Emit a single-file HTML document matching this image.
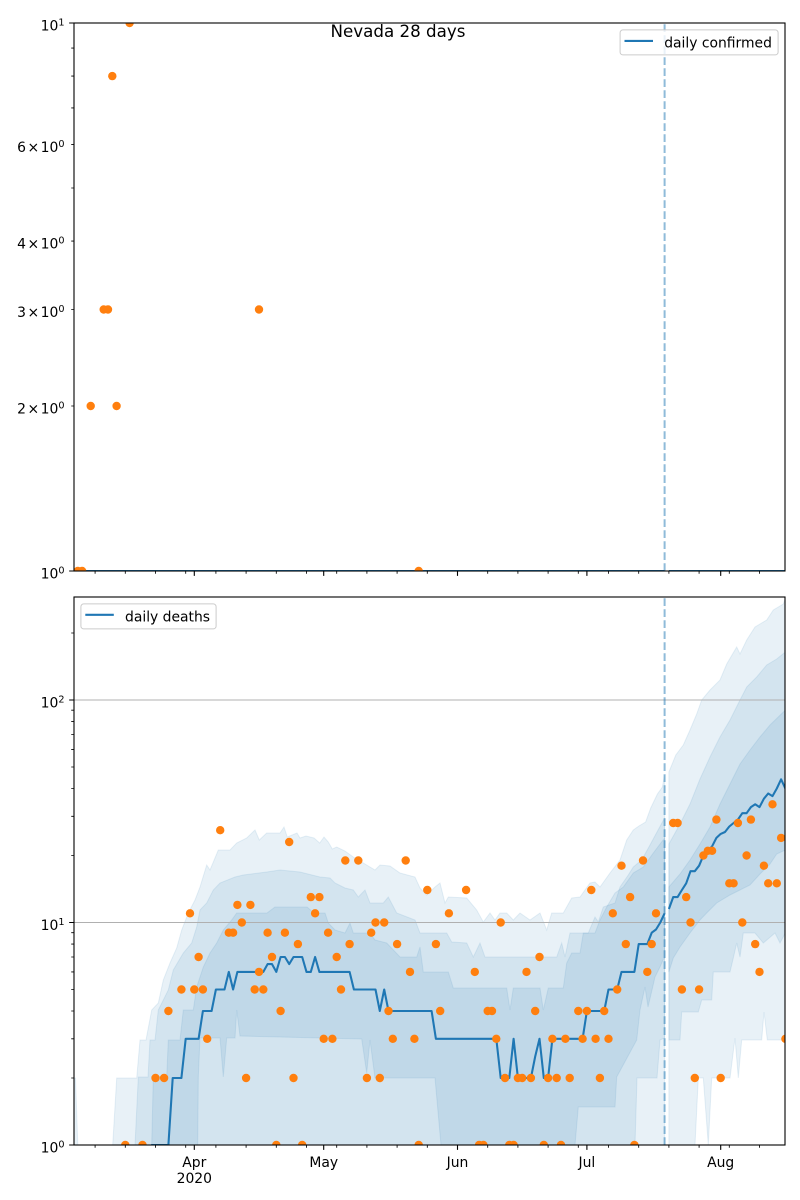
<!DOCTYPE html>
<html><head><meta charset="utf-8"><style>html,body{margin:0;padding:0;background:#fff}svg{display:block}</style></head>
<body>
<svg width="800" height="1200" viewBox="0 0 800 1200" xmlns="http://www.w3.org/2000/svg" font-family="'DejaVu Sans','Liberation Sans',sans-serif">
<rect width="800" height="1200" fill="#fff"/>
<defs>
<clipPath id="ct"><rect x="74" y="23" width="711" height="548"/></clipPath>
<clipPath id="cb"><rect x="74" y="597" width="711" height="548"/></clipPath>
</defs>

<!-- ================= TOP PANEL ================= -->
<g clip-path="url(#ct)">
<path d="M74,571 H664.6 M668.9,571 H785" stroke="#1f77b4" stroke-width="2.08" fill="none"/>
<g fill="#ff7f0e">
<circle cx="77.8" cy="571" r="4.2"/><circle cx="82.1" cy="571" r="4.2"/>
<circle cx="90.7" cy="406" r="4.2"/><circle cx="103.7" cy="309.5" r="4.2"/>
<circle cx="108" cy="309.5" r="4.2"/><circle cx="112.3" cy="76.1" r="4.2"/>
<circle cx="116.6" cy="406" r="4.2"/><circle cx="129.6" cy="23" r="4.2"/>
<circle cx="259" cy="309.5" r="4.2"/><circle cx="418.7" cy="571" r="4.2"/>
</g>
<line x1="664.6" y1="571" x2="664.6" y2="23" stroke="#1f77b4" stroke-opacity="0.5" stroke-width="2" stroke-dasharray="7.7 3.3"/>
</g>
<rect x="74" y="23" width="711" height="548" fill="none" stroke="#000" stroke-width="1.1"/>
<!-- top y ticks -->
<g stroke="#000" stroke-width="1.1">
<path d="M74,23 h-4.86 M74,571 h-4.86"/>
</g>
<g stroke="#000" stroke-width="0.85">
<path d="M74,48.1 h-2.78 M74,76.1 h-2.78 M74,107.9 h-2.78 M74,144.6 h-2.78 M74,188 h-2.78 M74,241.1 h-2.78 M74,309.5 h-2.78 M74,406 h-2.78"/>
</g>
<g font-size="13.9" text-anchor="end" fill="#000">
<text x="64.5" y="30.5">10<tspan dy="-5.1" font-size="9.7">1</tspan></text>
<text x="64.5" y="152.1">6<tspan dx="1.5">×</tspan><tspan dx="1.5">10</tspan><tspan dy="-5.1" font-size="9.7">0</tspan></text>
<text x="64.5" y="248.6">4<tspan dx="1.5">×</tspan><tspan dx="1.5">10</tspan><tspan dy="-5.1" font-size="9.7">0</tspan></text>
<text x="64.5" y="317">3<tspan dx="1.5">×</tspan><tspan dx="1.5">10</tspan><tspan dy="-5.1" font-size="9.7">0</tspan></text>
<text x="64.5" y="413.5">2<tspan dx="1.5">×</tspan><tspan dx="1.5">10</tspan><tspan dy="-5.1" font-size="9.7">0</tspan></text>
<text x="64.5" y="578.5">10<tspan dy="-5.1" font-size="9.7">0</tspan></text>
</g>
<!-- top x ticks -->
<g stroke="#000" stroke-width="1.1">
<path d="M194.3,571 v4.86 M323.7,571 v4.86 M457.5,571 v4.86 M586.9,571 v4.86 M720.7,571 v4.86"/>
</g>
<g stroke="#000" stroke-width="0.85">
<path d="M95.1,571 v2.78 M125.3,571 v2.78 M155.5,571 v2.78 M185.7,571 v2.78 M215.9,571 v2.78 M246.1,571 v2.78 M276.3,571 v2.78 M306.5,571 v2.78 M336.7,571 v2.78 M366.9,571 v2.78 M397.1,571 v2.78 M427.3,571 v2.78 M487.7,571 v2.78 M517.9,571 v2.78 M548.1,571 v2.78 M578.3,571 v2.78 M608.5,571 v2.78 M638.7,571 v2.78 M668.9,571 v2.78 M699.1,571 v2.78 M729.3,571 v2.78 M759.5,571 v2.78"/>
</g>
<!-- top legend -->
<rect x="620.1" y="29.9" width="158" height="25" rx="2.8" fill="#fff" fill-opacity="0.8" stroke="#cccccc" stroke-width="1"/>
<line x1="624.5" y1="40.9" x2="653" y2="40.9" stroke="#1f77b4" stroke-width="2.08"/>
<text x="664.2" y="47.3" font-size="13.9" fill="#000">daily confirmed</text>

<text x="398" y="37" font-size="16.7" text-anchor="middle" fill="#000">Nevada 28 days</text>

<!-- ================= BOTTOM PANEL ================= -->
<g clip-path="url(#cb)">
<g fill="#1f77b4" fill-opacity="0.1" stroke="#1f77b4" stroke-opacity="0.1" stroke-width="1">
<polygon points="74,1145 74,1078 75.5,1078 77.8,1145"/>
<!-- outer historical -->
<polygon points="112.7,1145 116.7,1078 136.7,1078 140,1040 146,1040 151.7,1010 158.3,1003 163.3,980 170,963 176.7,948 181.7,930 188.3,913 195,900 200,887 206.7,865 210,870 218.3,850 230,850 236.7,843 246.7,838 255,830 259.3,840 266.7,833 280,833 284,827 287.3,837 297,833 300,838 306,836 314,838 319.7,843 324,837 328.3,842 332.3,849 336.7,847 345,851 353.3,857 361.7,862 370,867 375,870 380,865 390,866 400,873 415,877 420,888 426.7,895 435,887 440,883 445,903 448.3,897 466.7,898 476.7,910 483.3,922 490,913 495,920 500,913 506.7,913 513.3,920 520,913 530,920 540,913 546.7,930 551.7,913 563.3,913 571.7,898 580,897 590,883 595,882 600,887 610,873 620,860 626.7,840 633.3,830 638.9,826 645.6,822 650.7,808 657.4,794 662.4,787 664.6,775 664.6,1145"/>
<!-- middle historical -->
<polygon points="135,1145 138.3,1077 148,1077 150,1040 155,1040 158.3,1010 168.3,990 173.3,970 183.3,953 191.7,943 196.7,927 200,910 206.7,903 213.3,890 220,883 235,877 243.3,875 266.7,872 280,870 300,872 320,877 330,878 335,883 345,888 353.3,890 358.3,897 365,890 370,903 383.3,903 388.3,897 396.7,913 415,920 420,933 446.7,933 451.7,942 466.7,943 473.3,957 480,943 485,957 556.7,957 561.7,943 565,957 570,933 588.3,933 595,917 598.3,922 603.3,907 615,903 620,887 628.3,875 633.3,867 641.7,860 650,845 657,832 664.6,818 664.6,1038 660,1040 657,1078 637,1078 635,1145"/>
<!-- inner historical -->
<polygon points="151.7,1145 153.3,1077 166.7,1077 168.3,1040 180,1040 183.3,1010 193.3,1010 196.7,987 203.3,967 210,953 216.7,943 223.3,930 231.7,920 236.7,913 267,913 275,907 307,907 314,913 325,913 328.3,923 335,930 345,933 350,923 353.3,933 370,933 375,940 386.7,943 400,957 416.7,957 420,947 423.3,972 448.3,972 453.3,988 506.7,988 510,1010 513.3,988 540,988 543.3,1010 548.3,988 563.3,988 566.7,963 571.7,953 580,953 583.3,933 595,933 600,920 606.7,907 615,893 623.3,887 633.3,873 643.3,867 653.3,853 664.6,838 664.6,958 663,960 660,967 655,977 652,990 648,1007 645,987 640,1010 636.7,1040 616.7,1077 615,1107 578.3,1107 575,1145 441,1145 435,1078 375,1078 370,1040 366.7,1073 361.7,1039 240,1036 236.7,1010 235,1038 226.7,1038 223.3,1077 220,1038 200,1038 198.3,1077 197.7,1145"/>
<!-- outer forecast -->
<polygon points="668.9,772 675.8,755 683.3,745 690,730 696.7,714 701.7,700 710,690 720,680 726.7,664 736.7,647 740,654 746.7,640 755,627 766.7,620 773.3,610 783.3,604 785.4,598 785.4,1040 767.3,1040 764,1012 761.7,1040 741.7,1040 738.3,1078 735,1038 730,1078 711.7,1078 708.3,1145 703.3,1078 698.3,1078 695,1145 668.9,1145"/>
<!-- middle forecast -->
<polygon points="668.9,844 680,824 690,804 700,779 710,757 720,737 730,720 740,700 746.7,687 756.7,677 766.7,665 776.7,659 785.4,652 785.4,933 780,943 775,933 763.3,943 755,933 743.3,933 740,957 736.7,943 733.3,958 730,972 713.3,972 711.7,1000 701.7,1000 698.3,1012 681.7,1012 680,1040 668.9,1040"/>
<!-- inner forecast -->
<polygon points="668.9,887 680,874 690,860 700,844 710,827 720,804 730,784 740,764 750,750 760,737 770,725 785.4,710 785.4,850 776.7,854 770,864 760,874 750,885 740,890 730,895 716.7,903 706.7,913 700,920 690,933 680,947 673.3,958 668.9,972"/>
</g>
<!-- grid -->
<path d="M74,700 H785 M74,922.5 H785" stroke="#b0b0b0" stroke-width="1.1"/>
<!-- median lines -->
<path d="M151.2,1145 L168.4,1145 L172.7,1078 L181.4,1078 L185.7,1038.8 L198.6,1038.8 L202.9,1011 L211.6,1011 L215.9,989.5 L224.5,989.5 L228.8,971.9 L233.1,989.5 L237.4,971.9 L263.3,971.9 L267.6,964.1 L272,964.1 L276.3,971.9 L280.6,957 L284.9,957 L289.2,964.1 L293.5,957 L302.2,957 L306.5,971.9 L310.8,971.9 L315.1,957 L319.4,971.9 L349.6,971.9 L353.9,989.5 L375.5,989.5 L379.8,1011 L384.2,989.5 L388.5,1011 L431.6,1011 L435.9,1038.8 L496.3,1038.8 L500.7,1078 L509.3,1078 L513.6,1038.8 L517.9,1078 L530.9,1078 L535.2,1056.5 L539.5,1038.8 L543.8,1078 L548.1,1078 L552.4,1038.8 L582.6,1038.8 L586.9,1011 L604.2,1011 L608.5,989.5 L617.2,989.5 L621.5,971.9 L634.4,971.9 L638.7,944.1 L647.3,944.1 L651.7,932.7 L656,929.5 L660.3,922.5 L664.6,913.3" stroke="#1f77b4" stroke-width="2.08" fill="none" stroke-linejoin="round"/>
<path d="M668.9,909 L673.2,897.1 L677.6,897.1 L681.9,890 L686.2,883.3 L690.5,871.2 L694.8,871.2 L699.1,865.7 L703.4,855.5 L707.8,850.8 L712.1,846.3 L716.4,837.9 L720.7,833.9 L725,832 L729.3,826.5 L733.6,823 L737.9,819.6 L742.3,813.2 L746.6,813.2 L750.9,807.1 L755.2,804.3 L759.5,807.1 L763.9,798.7 L768.2,793.5 L772.5,796.1 L776.8,788.5 L781.1,779.3 L785.4,788.5" stroke="#1f77b4" stroke-width="2.08" fill="none" stroke-linejoin="round"/>
<!-- dots -->
<g fill="#ff7f0e">
<circle cx="125.3" cy="1145" r="4.2"/><circle cx="142.5" cy="1145" r="4.2"/><circle cx="155.5" cy="1078" r="4.2"/><circle cx="164.1" cy="1078" r="4.2"/><circle cx="168.4" cy="1011" r="4.2"/><circle cx="181.4" cy="989.5" r="4.2"/><circle cx="190" cy="913.3" r="4.2"/><circle cx="194.3" cy="989.5" r="4.2"/><circle cx="198.6" cy="957" r="4.2"/><circle cx="202.9" cy="989.5" r="4.2"/><circle cx="207.2" cy="1038.8" r="4.2"/><circle cx="220.2" cy="830.2" r="4.2"/><circle cx="228.8" cy="932.7" r="4.2"/><circle cx="233.1" cy="932.7" r="4.2"/><circle cx="237.4" cy="904.9" r="4.2"/><circle cx="241.8" cy="922.5" r="4.2"/><circle cx="246.1" cy="1078" r="4.2"/><circle cx="250.4" cy="904.9" r="4.2"/><circle cx="254.7" cy="989.5" r="4.2"/><circle cx="259" cy="971.9" r="4.2"/><circle cx="263.3" cy="989.5" r="4.2"/><circle cx="267.6" cy="932.7" r="4.2"/><circle cx="272" cy="957" r="4.2"/><circle cx="276.3" cy="1145" r="4.2"/><circle cx="280.6" cy="1011" r="4.2"/><circle cx="284.9" cy="932.7" r="4.2"/><circle cx="289.2" cy="842" r="4.2"/><circle cx="293.5" cy="1078" r="4.2"/><circle cx="297.9" cy="944.1" r="4.2"/><circle cx="302.2" cy="1145" r="4.2"/><circle cx="310.8" cy="897.1" r="4.2"/><circle cx="315.1" cy="913.3" r="4.2"/><circle cx="319.4" cy="897.1" r="4.2"/><circle cx="323.7" cy="1038.8" r="4.2"/><circle cx="328.1" cy="932.7" r="4.2"/><circle cx="332.4" cy="1038.8" r="4.2"/><circle cx="336.7" cy="957" r="4.2"/><circle cx="341" cy="989.5" r="4.2"/><circle cx="345.3" cy="860.5" r="4.2"/><circle cx="349.6" cy="944.1" r="4.2"/><circle cx="358.3" cy="860.5" r="4.2"/><circle cx="366.9" cy="1078" r="4.2"/><circle cx="371.2" cy="932.7" r="4.2"/><circle cx="375.5" cy="922.5" r="4.2"/><circle cx="379.8" cy="1078" r="4.2"/><circle cx="384.2" cy="922.5" r="4.2"/><circle cx="388.5" cy="1011" r="4.2"/><circle cx="392.8" cy="1038.8" r="4.2"/><circle cx="397.1" cy="944.1" r="4.2"/><circle cx="405.7" cy="860.5" r="4.2"/><circle cx="410" cy="971.9" r="4.2"/><circle cx="414.4" cy="1038.8" r="4.2"/><circle cx="418.7" cy="1145" r="4.2"/><circle cx="427.3" cy="890" r="4.2"/><circle cx="435.9" cy="944.1" r="4.2"/><circle cx="440.2" cy="1011" r="4.2"/><circle cx="448.9" cy="913.3" r="4.2"/><circle cx="466.1" cy="890" r="4.2"/><circle cx="474.8" cy="971.9" r="4.2"/><circle cx="479.1" cy="1145" r="4.2"/><circle cx="483.4" cy="1145" r="4.2"/><circle cx="487.7" cy="1011" r="4.2"/><circle cx="492" cy="1011" r="4.2"/><circle cx="496.3" cy="1038.8" r="4.2"/><circle cx="500.7" cy="922.5" r="4.2"/><circle cx="505" cy="1078" r="4.2"/><circle cx="509.3" cy="1145" r="4.2"/><circle cx="513.6" cy="1145" r="4.2"/><circle cx="517.9" cy="1078" r="4.2"/><circle cx="522.2" cy="1078" r="4.2"/><circle cx="526.5" cy="971.9" r="4.2"/><circle cx="530.9" cy="1078" r="4.2"/><circle cx="535.2" cy="1011" r="4.2"/><circle cx="539.5" cy="957" r="4.2"/><circle cx="543.8" cy="1145" r="4.2"/><circle cx="548.1" cy="1078" r="4.2"/><circle cx="552.4" cy="1038.8" r="4.2"/><circle cx="556.7" cy="1078" r="4.2"/><circle cx="561" cy="1145" r="4.2"/><circle cx="565.4" cy="1038.8" r="4.2"/><circle cx="569.7" cy="1078" r="4.2"/><circle cx="578.3" cy="1011" r="4.2"/><circle cx="582.6" cy="1038.8" r="4.2"/><circle cx="586.9" cy="1011" r="4.2"/><circle cx="591.3" cy="890" r="4.2"/><circle cx="595.6" cy="1038.8" r="4.2"/><circle cx="599.9" cy="1078" r="4.2"/><circle cx="604.2" cy="1011" r="4.2"/><circle cx="608.5" cy="1038.8" r="4.2"/><circle cx="612.8" cy="913.3" r="4.2"/><circle cx="617.2" cy="989.5" r="4.2"/><circle cx="621.5" cy="865.7" r="4.2"/><circle cx="625.8" cy="944.1" r="4.2"/><circle cx="630.1" cy="897.1" r="4.2"/><circle cx="634.4" cy="1145" r="4.2"/><circle cx="643" cy="860.5" r="4.2"/><circle cx="647.3" cy="971.9" r="4.2"/><circle cx="651.7" cy="944.1" r="4.2"/><circle cx="656" cy="913.3" r="4.2"/><circle cx="673.2" cy="823" r="4.2"/><circle cx="677.6" cy="823" r="4.2"/><circle cx="681.9" cy="989.5" r="4.2"/><circle cx="686.2" cy="897.1" r="4.2"/><circle cx="690.5" cy="922.5" r="4.2"/><circle cx="694.8" cy="1078" r="4.2"/><circle cx="699.1" cy="989.5" r="4.2"/><circle cx="703.4" cy="855.5" r="4.2"/><circle cx="707.8" cy="850.8" r="4.2"/><circle cx="712.1" cy="850.8" r="4.2"/><circle cx="716.4" cy="819.6" r="4.2"/><circle cx="720.7" cy="1078" r="4.2"/><circle cx="729.3" cy="883.3" r="4.2"/><circle cx="733.6" cy="883.3" r="4.2"/><circle cx="737.9" cy="823" r="4.2"/><circle cx="742.3" cy="922.5" r="4.2"/><circle cx="746.6" cy="855.5" r="4.2"/><circle cx="750.9" cy="819.6" r="4.2"/><circle cx="755.2" cy="944.1" r="4.2"/><circle cx="759.5" cy="971.9" r="4.2"/><circle cx="763.9" cy="865.7" r="4.2"/><circle cx="768.2" cy="883.3" r="4.2"/><circle cx="772.5" cy="804.3" r="4.2"/><circle cx="776.8" cy="883.3" r="4.2"/><circle cx="781.1" cy="837.9" r="4.2"/><circle cx="785.4" cy="1038.8" r="4.2"/>
</g>
<line x1="664.6" y1="1145" x2="664.6" y2="597" stroke="#1f77b4" stroke-opacity="0.5" stroke-width="2" stroke-dasharray="7.7 3.3"/>
</g>
<rect x="74" y="597" width="711" height="548" fill="none" stroke="#000" stroke-width="1.1"/>
<!-- bottom y ticks -->
<g stroke="#000" stroke-width="1.1">
<path d="M74,1145 h-4.86 M74,922.5 h-4.86 M74,700 h-4.86"/>
</g>
<g stroke="#000" stroke-width="0.85">
<path d="M74,1078 h-2.78 M74,1038.8 h-2.78 M74,1011 h-2.78 M74,989.5 h-2.78 M74,971.9 h-2.78 M74,957 h-2.78 M74,944.1 h-2.78 M74,932.7 h-2.78 M74,855.5 h-2.78 M74,816.3 h-2.78 M74,788.5 h-2.78 M74,767 h-2.78 M74,749.4 h-2.78 M74,734.5 h-2.78 M74,721.6 h-2.78 M74,710.2 h-2.78 M74,633 h-2.78"/>
</g>
<g font-size="13.9" text-anchor="end" fill="#000">
<text x="64.5" y="1152.5">10<tspan dy="-5.1" font-size="9.7">0</tspan></text>
<text x="64.5" y="930">10<tspan dy="-5.1" font-size="9.7">1</tspan></text>
<text x="64.5" y="707.5">10<tspan dy="-5.1" font-size="9.7">2</tspan></text>
</g>
<!-- bottom x ticks -->
<g stroke="#000" stroke-width="1.1">
<path d="M194.3,1145 v4.86 M323.7,1145 v4.86 M457.5,1145 v4.86 M586.9,1145 v4.86 M720.7,1145 v4.86"/>
</g>
<g stroke="#000" stroke-width="0.85">
<path d="M95.1,1145 v2.78 M125.3,1145 v2.78 M155.5,1145 v2.78 M185.7,1145 v2.78 M215.9,1145 v2.78 M246.1,1145 v2.78 M276.3,1145 v2.78 M306.5,1145 v2.78 M336.7,1145 v2.78 M366.9,1145 v2.78 M397.1,1145 v2.78 M427.3,1145 v2.78 M487.7,1145 v2.78 M517.9,1145 v2.78 M548.1,1145 v2.78 M578.3,1145 v2.78 M608.5,1145 v2.78 M638.7,1145 v2.78 M668.9,1145 v2.78 M699.1,1145 v2.78 M729.3,1145 v2.78 M759.5,1145 v2.78"/>
</g>
<g font-size="13.9" text-anchor="middle" fill="#000">
<text x="194.3" y="1167">Apr</text>
<text x="194.3" y="1183">2020</text>
<text x="323.7" y="1167">May</text>
<text x="457.5" y="1167">Jun</text>
<text x="586.9" y="1167">Jul</text>
<text x="720.7" y="1167">Aug</text>
</g>
<!-- bottom legend -->
<rect x="80.9" y="603.9" width="135.2" height="25" rx="2.8" fill="#fff" fill-opacity="0.8" stroke="#cccccc" stroke-width="1"/>
<line x1="85.3" y1="614.8" x2="113.8" y2="614.8" stroke="#1f77b4" stroke-width="2.08"/>
<text x="125" y="621.3" font-size="13.9" fill="#000">daily deaths</text>
</svg>
</body></html>
